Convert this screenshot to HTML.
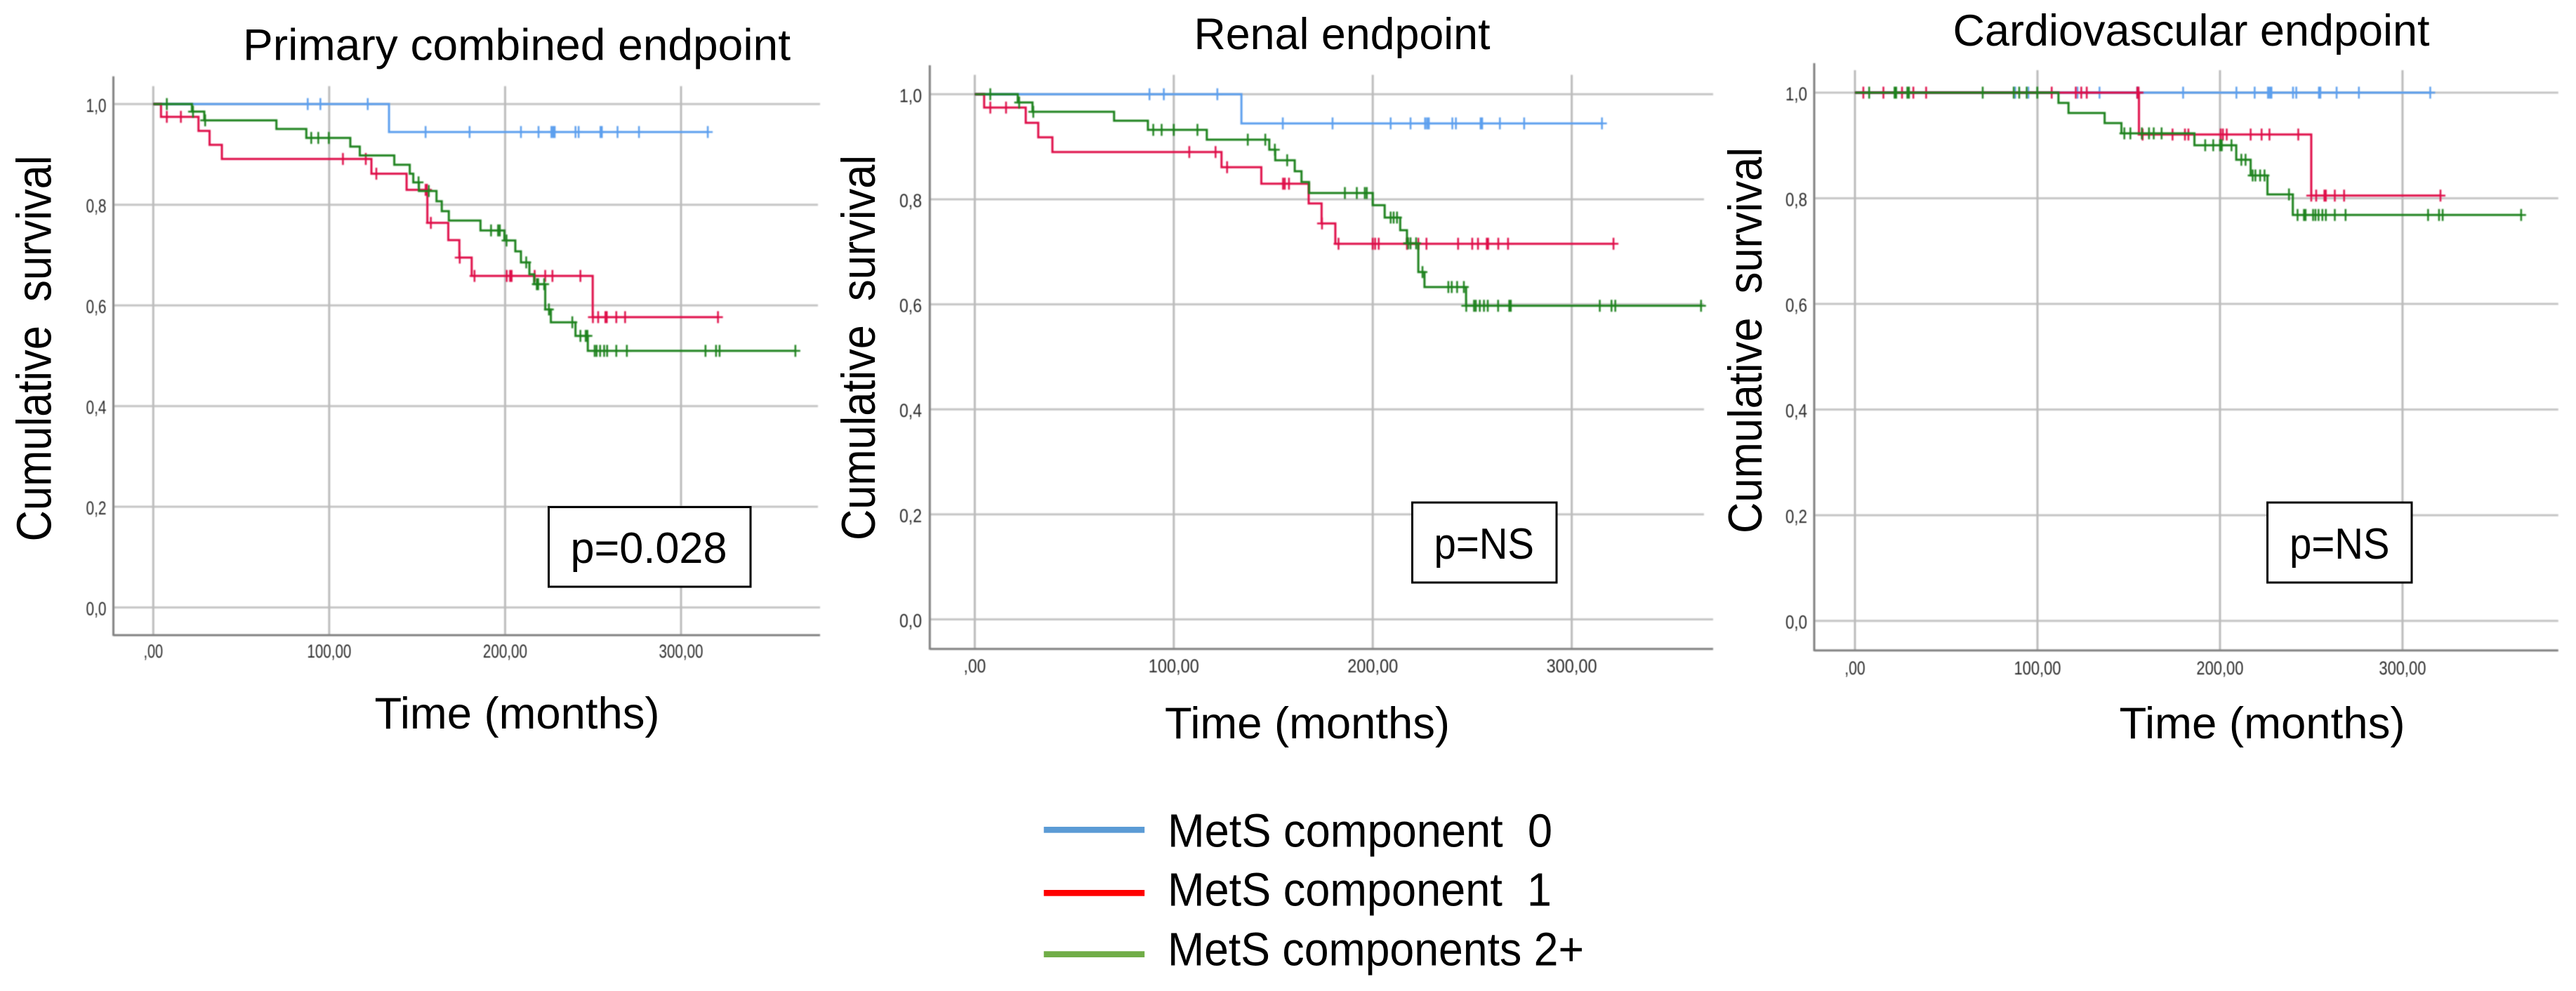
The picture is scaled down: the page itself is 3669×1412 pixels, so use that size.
<!DOCTYPE html>
<html lang="en">
<head>
<meta charset="utf-8">
<title>Kaplan-Meier survival by MetS components</title>
<style>
html,body{margin:0;padding:0;background:#fff;}
svg{display:block;}
text{font-family:"Liberation Sans",sans-serif;fill:#000;white-space:pre;}
</style>
</head>
<body>
<svg id="figure" xmlns="http://www.w3.org/2000/svg" width="3669" height="1412" viewBox="0 0 3669 1412">
<defs>
<filter id="soft" filterUnits="userSpaceOnUse" x="0" y="0" width="3669" height="1412"><feGaussianBlur stdDeviation="0.9"/></filter>
<filter id="softText" filterUnits="userSpaceOnUse" x="0" y="0" width="3669" height="1412"><feGaussianBlur stdDeviation="0.5"/></filter>
</defs>
<rect width="3669" height="1412" fill="#fff"/>
<g id="p1"></g>
<g id="p2"></g>
<g id="p3"></g>

<text x="346" y="85.5" font-size="63" textLength="780" lengthAdjust="spacingAndGlyphs">Primary combined endpoint</text>
<text x="1700.5" y="70" font-size="63" textLength="422" lengthAdjust="spacingAndGlyphs">Renal endpoint</text>
<text x="2781.5" y="65" font-size="63" textLength="679" lengthAdjust="spacingAndGlyphs">Cardiovascular endpoint</text>

<text transform="translate(72.5 771.5) rotate(-90)" font-size="70" textLength="550" lengthAdjust="spacingAndGlyphs">Cumulative  survival</text>
<text transform="translate(1246 770) rotate(-90)" font-size="68" textLength="549" lengthAdjust="spacingAndGlyphs">Cumulative  survival</text>
<text transform="translate(2509 760) rotate(-90)" font-size="68" textLength="550" lengthAdjust="spacingAndGlyphs">Cumulative  survival</text>

<text x="533.5" y="1038" font-size="63" textLength="406" lengthAdjust="spacingAndGlyphs">Time (months)</text>
<text x="1659" y="1052" font-size="63" textLength="406" lengthAdjust="spacingAndGlyphs">Time (months)</text>
<text x="3018.5" y="1052" font-size="63" textLength="407" lengthAdjust="spacingAndGlyphs">Time (months)</text>

<rect x="781.5" y="722.5" width="287.5" height="113.5" fill="#fff" stroke="#000" stroke-width="3"/>
<text x="812.5" y="802" font-size="62" textLength="223" lengthAdjust="spacingAndGlyphs">p=0.028</text>
<rect x="2011.5" y="716" width="205.5" height="114" fill="#fff" stroke="#000" stroke-width="3"/>
<text x="2042.5" y="796" font-size="62" textLength="142.5" lengthAdjust="spacingAndGlyphs">p=NS</text>
<rect x="3229.5" y="716" width="205.5" height="114" fill="#fff" stroke="#000" stroke-width="3"/>
<text x="3261" y="796" font-size="62" textLength="142.5" lengthAdjust="spacingAndGlyphs">p=NS</text>

<g>
<rect x="1486.7" y="1178" width="143.5" height="8.7" fill="#5b9bd5"/>
<text x="1663" y="1206.7" font-size="67" textLength="548" lengthAdjust="spacingAndGlyphs">MetS component  0</text>
<rect x="1486.7" y="1268" width="143.5" height="8.7" fill="#ff0000"/>
<text x="1663" y="1290.7" font-size="67" textLength="547" lengthAdjust="spacingAndGlyphs">MetS component  1</text>
<rect x="1486.7" y="1355.3" width="143.5" height="8.7" fill="#70ad47"/>
<text x="1663" y="1375.7" font-size="67" textLength="593" lengthAdjust="spacingAndGlyphs">MetS components 2+</text>
</g>
</svg>

<script>
// Axis ticks
const yTickValues = [0, 0.2, 0.4, 0.6, 0.8, 1];
const yTickLabels = ['0,0', '0,2', '0,4', '0,6', '0,8', '1,0'];
const xTickValues = [0, 100, 200, 300];
const xTickLabels = [',00', '100,00', '200,00', '300,00'];

// Shared: component 0 censor times (months)
const blueCensorTimes = [87.8, 95, 121.9, 154.8, 179.8, 209, 219, 226.3, 227.3, 228.2, 240, 241.8, 254.2, 255, 263.9, 276.1, 315.2];
const blueCensorTimesCardio = [87.8, 95, 121.9, 134, 154.8, 179.8, 209, 219, 226.3, 227.3, 228.2, 240, 241.8, 254.2, 255, 263.9, 276.1, 315.2];

// Primary combined endpoint
const p1BlueTimes = [134];
const p1BlueSurvival = [0.9445];
const p1RedTimes = [4.4, 25.7, 32, 39, 124, 144, 155.8, 167.7, 174, 181, 249.8];
const p1RedSurvival = [0.9747, 0.9467, 0.919, 0.891, 0.8617, 0.8296, 0.764, 0.7297, 0.695, 0.6586, 0.5767];
const p1RedCensorTimes = [7.7, 15.7, 107.8, 120.8, 126.8, 154.8, 155.6, 157.8, 174.2, 182.6, 200.9, 202.8, 203.7, 216.8, 222.8, 226.9, 242.8, 249.9, 252.9, 257, 257.8, 263.2, 268.2, 321];
const p1GreenTimes = [22, 29, 70, 87, 112, 117.4, 137, 145.8, 147.8, 151, 161, 164, 168, 186, 199.6, 205.8, 209, 213.8, 216.5, 222.8, 226, 240, 247];
const p1GreenSurvival = [0.985, 0.9677, 0.9505, 0.9328, 0.9156, 0.898, 0.8794, 0.8617, 0.8445, 0.8273, 0.807, 0.7873, 0.7687, 0.749, 0.729, 0.7074, 0.6855, 0.6618, 0.6422, 0.592, 0.5665, 0.5395, 0.5098];
const p1GreenCensorTimes = [7.7, 22.6, 29.5, 89.8, 93.8, 99.8, 150.8, 156.6, 192, 196, 197, 200.8, 212, 218, 218.8, 222.2, 224.9, 238.2, 242.8, 245.8, 246.8, 250.9, 252, 254, 256.3, 258, 263.2, 269.2, 313.9, 319.9, 321.9, 365];

// Renal endpoint
const p2BlueTimes = [134];
const p2BlueSurvival = [0.9445];
const p2RedTimes = [4.7, 25.6, 31.9, 39, 124, 144, 167.8, 174.3, 181.2];
const p2RedSurvival = [0.9746, 0.9456, 0.918, 0.89, 0.861, 0.8297, 0.792, 0.754, 0.7153];
const p2RedCensorTimes = [7.8, 15.7, 107.8, 121, 126.8, 154.9, 155.8, 157.9, 174.5, 182.8, 200, 201.2, 203, 217.2, 222.9, 227, 242.9, 250, 252.9, 257.3, 258, 263.1, 268, 321];
const p2GreenTimes = [21.6, 29, 70, 87, 116.6, 148, 151, 160.8, 164.2, 168, 200, 206, 213.8, 217.2, 222.9, 226, 246.9];
const p2GreenSurvival = [0.9843, 0.9666, 0.9496, 0.9322, 0.9135, 0.8944, 0.8743, 0.8534, 0.8329, 0.8119, 0.7888, 0.7652, 0.7411, 0.7161, 0.6614, 0.6329, 0.5972];
const p2GreenCensorTimes = [7.8, 22.3, 29.4, 89.7, 93.9, 100, 111.9, 137.2, 146, 150.8, 157, 186, 192, 196, 197, 209, 210.5, 212.2, 217.8, 219, 221.8, 225, 238, 239.7, 242.4, 245.8, 247, 250.9, 251.8, 253.8, 255.9, 257.8, 263, 268.6, 269.4, 314.1, 320, 321.9, 365];

// Cardiovascular endpoint
const p3BlueTimes = [];
const p3BlueSurvival = [];
const p3RedTimes = [155.6, 250];
const p3RedSurvival = [0.9207, 0.8051];
const p3RedCensorTimes = [4.6, 15.6, 25.8, 32, 39, 107.8, 121, 124, 127, 154.7, 155.4, 157.6, 174, 180.8, 182.7, 200.4, 201.6, 203.7, 216.8, 222.8, 227.1, 242.9, 250, 252.7, 257.2, 258, 262.9, 268, 320.8];
const p3GreenTimes = [111.5, 117, 136.8, 146, 186, 208.9, 216.8, 226, 239.9];
const p3GreenSurvival = [0.9805, 0.9615, 0.9424, 0.9229, 0.9004, 0.8729, 0.8432, 0.8073, 0.7684];
const p3GreenCensorTimes = [7.8, 21.7, 22.6, 28.7, 29.6, 70, 87, 90, 94.1, 99.9, 147.6, 150.9, 157.2, 161.1, 163.7, 168, 191.9, 196.3, 200.1, 201, 206.3, 211.7, 214, 217.9, 219.4, 222, 224.4, 237.8, 242.5, 246, 246.9, 251, 252.3, 254, 256.1, 258, 262.9, 268.8, 314, 320, 322, 365];

const SVG_NS = 'http://www.w3.org/2000/svg';
const BLUE = '#5c9fee';
const RED = '#df1148';
const GREEN = '#1f821f';

function survivalAt(times, survival, t) {
  let s = 1;
  for (let i = 0; i < times.length; i++) {
    if (t >= times[i]) s = survival[i];
  }
  return s;
}

function line(parent, x1, y1, x2, y2, stroke, width) {
  const el = document.createElementNS(SVG_NS, 'line');
  el.setAttribute('x1', x1);
  el.setAttribute('y1', y1);
  el.setAttribute('x2', x2);
  el.setAttribute('y2', y2);
  el.setAttribute('stroke', stroke);
  el.setAttribute('stroke-width', width);
  parent.appendChild(el);
  return el;
}

function group(parent, filter) {
  const g = document.createElementNS(SVG_NS, 'g');
  if (filter) g.setAttribute('filter', filter);
  parent.appendChild(g);
  return g;
}

function drawPanel(id, box, series) {
  const root = document.getElementById(id);
  const xScale = t => box.x0 + t * (box.x300 - box.x0) / 300;
  const yScale = v => box.yZero - v * (box.yZero - box.yOne);

  const gridLayer = group(root, 'url(#soft)');
  
  

  yTickValues.forEach((v, i) => {
    const right = (v === 0 || v === 1) ? box.right : box.gridRight;
    const gl = line(gridLayer, box.left, yScale(v), right, yScale(v), '#c4c4c4', 3);
    
    
  });
  xTickValues.forEach((v, i) => {
    const gl = line(gridLayer, xScale(v), box.gridTop, xScale(v), box.bottom, '#bcbcbc', 3);
    
    
  });
  const yAxis = line(gridLayer, box.left, box.top, box.left, box.bottom + 1, '#808080', 3);
  
  
  const xAxis = line(gridLayer, box.left, box.bottom, box.right, box.bottom, '#808080', 3);
  
  

  const tickLayer = group(root, 'url(#softText)');
  
  
  yTickValues.forEach((v, i) => {
    const t = document.createElementNS(SVG_NS, 'text');
    
    
    t.setAttribute('x', box.yLabelX);
    t.setAttribute('y', yScale(v) + 11);
    t.setAttribute('font-size', 27);
    t.setAttribute('textLength', box.yLabelW);
    t.setAttribute('lengthAdjust', 'spacingAndGlyphs');
    t.setAttribute('style', 'fill:#2e2e2e');
    t.textContent = yTickLabels[i];
    tickLayer.appendChild(t);
  });
  xTickValues.forEach((v, i) => {
    const t = document.createElementNS(SVG_NS, 'text');
    const label = xTickLabels[i];
    const w = label.length === 3 ? box.xLabelW * 0.44 : box.xLabelW;
    
    
    t.setAttribute('x', xScale(v) - w / 2);
    t.setAttribute('y', box.xLabelY);
    t.setAttribute('font-size', 27);
    t.setAttribute('textLength', w);
    t.setAttribute('lengthAdjust', 'spacingAndGlyphs');
    t.setAttribute('style', 'fill:#2e2e2e');
    t.textContent = label;
    tickLayer.appendChild(t);
  });

  series.forEach(s => {
    const g = group(root, 'url(#soft)');
    
    

    const endT = s.censors[s.censors.length - 1];
    let d = 'M' + xScale(0) + ' ' + yScale(1);
    s.times.forEach((t, i) => {
      d += 'H' + xScale(t) + 'V' + yScale(s.survival[i]);
    });
    d += 'H' + xScale(endT);
    const path = document.createElementNS(SVG_NS, 'path');
    
    
    path.setAttribute('d', d);
    path.setAttribute('fill', 'none');
    path.setAttribute('stroke', s.color);
    path.setAttribute('stroke-width', 3);
    g.appendChild(path);

    s.censors.forEach(t => {
      const cx = xScale(t);
      const cy = yScale(survivalAt(s.times, s.survival, t));
      const mark = group(g);
      
      
      line(mark, cx, cy - 8.5, cx, cy + 8.5, s.color, 2.5);
      line(mark, cx - 7, cy, cx + 7, cy, s.color, 2.5);
    });
  });
}

drawPanel('p1',
  { x0: 218.3, x300: 970, yOne: 148.3, yZero: 865.5, left: 161.5, right: 1168, gridRight: 1165, top: 108.7, bottom: 905, gridTop: 122.8, yLabelX: 122.5, yLabelW: 29, xLabelY: 937, xLabelW: 63 },
  [
    { name: 'component-0', color: BLUE, times: p1BlueTimes, survival: p1BlueSurvival, censors: blueCensorTimes },
    { name: 'component-1', color: RED, times: p1RedTimes, survival: p1RedSurvival, censors: p1RedCensorTimes },
    { name: 'components-2-plus', color: GREEN, times: p1GreenTimes, survival: p1GreenSurvival, censors: p1GreenCensorTimes }
  ]);

drawPanel('p2',
  { x0: 1388.4, x300: 2238.6, yOne: 134.3, yZero: 882.5, left: 1324.3, right: 2440, gridRight: 2427, top: 93, bottom: 924.6, gridTop: 106.6, yLabelX: 1281, yLabelW: 32, xLabelY: 958, xLabelW: 72 },
  [
    { name: 'component-0', color: BLUE, times: p2BlueTimes, survival: p2BlueSurvival, censors: blueCensorTimes },
    { name: 'component-1', color: RED, times: p2RedTimes, survival: p2RedSurvival, censors: p2RedCensorTimes },
    { name: 'components-2-plus', color: GREEN, times: p2GreenTimes, survival: p2GreenSurvival, censors: p2GreenCensorTimes }
  ]);

drawPanel('p3',
  { x0: 2642, x300: 3421.9, yOne: 132, yZero: 884.6, left: 2584, right: 3643.8, gridRight: 3643.8, top: 90, bottom: 926.7, gridTop: 100, yLabelX: 2543, yLabelW: 31, xLabelY: 961, xLabelW: 67 },
  [
    { name: 'component-0', color: BLUE, times: p3BlueTimes, survival: p3BlueSurvival, censors: blueCensorTimesCardio },
    { name: 'component-1', color: RED, times: p3RedTimes, survival: p3RedSurvival, censors: p3RedCensorTimes },
    { name: 'components-2-plus', color: GREEN, times: p3GreenTimes, survival: p3GreenSurvival, censors: p3GreenCensorTimes }
  ]);
</script>
</body>
</html>
